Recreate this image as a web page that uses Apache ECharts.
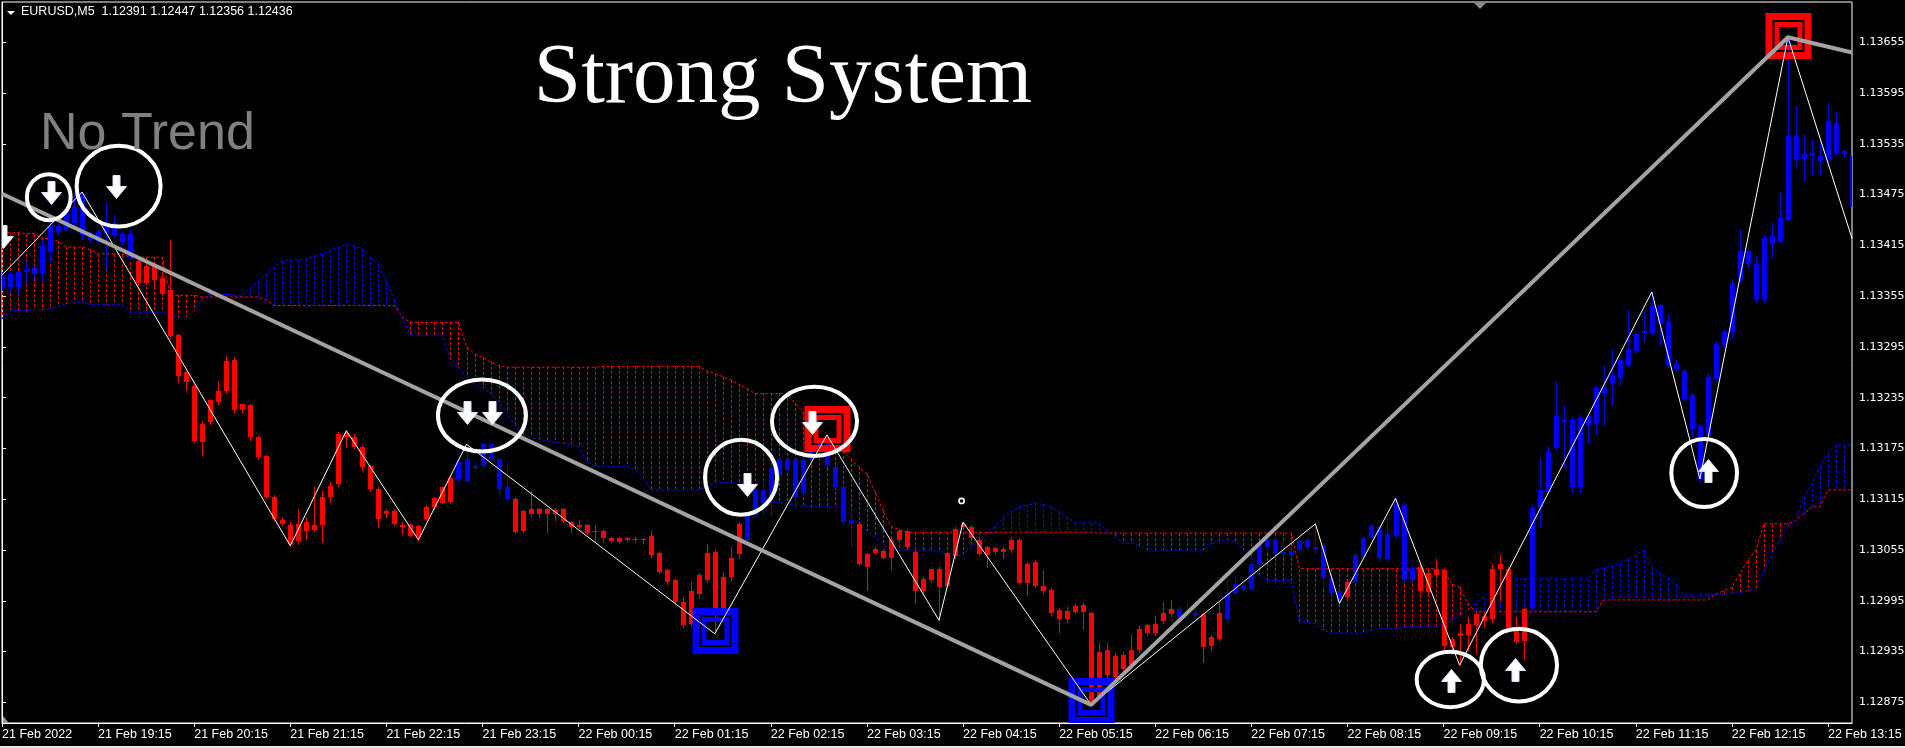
<!DOCTYPE html>
<html><head><meta charset="utf-8">
<script src="https://cdn.jsdelivr.net/npm/echarts@6/dist/echarts.min.js"></script>
<style>html,body{margin:0;padding:0;background:#000;overflow:hidden}#c{width:1905px;height:748px}</style>
</head><body><div id="c"></div>
<script>
// ---------- DATA ----------
const xTickLabels = ['21 Feb 2022','21 Feb 19:15','21 Feb 20:15','21 Feb 21:15','21 Feb 22:15','21 Feb 23:15',
  '22 Feb 00:15','22 Feb 01:15','22 Feb 02:15','22 Feb 03:15','22 Feb 04:15','22 Feb 05:15','22 Feb 06:15',
  '22 Feb 07:15','22 Feb 08:15','22 Feb 09:15','22 Feb 10:15','22 Feb 11:15','22 Feb 12:15','22 Feb 13:15'];
const xTickBars = [0,12,24,36,48,60,72,84,96,108,120,132,144,156,168,180,192,204,216,228];
const yTickValues = [1.12875,1.12935,1.12995,1.13055,1.13115,1.13175,1.13235,1.13295,1.13355,1.13415,1.13475,1.13535,1.13595,1.13655];

const opens = [
1.13366,1.13366,1.13366,1.13383,1.13381,1.13382,1.13407,1.13431,1.13434,1.13442,
1.13427,1.13421,1.13420,1.13429,1.13427,1.13419,1.13401,1.13397,1.13391,1.13392,
1.13377,1.13362,1.13309,1.13265,1.13249,1.13204,1.13232,1.13243,1.13278,1.13280,
1.13227,1.13226,1.13188,1.13166,1.13118,1.13091,1.13085,1.13086,1.13088,1.13084,
1.13118,1.13131,1.13192,1.13193,1.13189,1.13177,1.13154,1.13127,1.13101,1.13101,
1.13084,1.13084,1.13083,1.13106,1.13116,1.13130,1.13140,1.13139,1.13137,1.13152,
1.13154,1.13162,1.13127,1.13115,1.13115,1.13101,1.13104,1.13104,1.13104,1.13102,
1.13104,1.13088,1.13085,1.13085,1.13078,1.13078,1.13069,1.13069,1.13069,1.13068,
1.13068,1.13071,1.13052,1.13031,1.13020,1.12994,1.13006,1.13026,1.13051,1.13053,
1.13023,1.13045,1.13086,1.13067,1.13096,1.13111,1.13118,1.13143,1.13149,1.13118,
1.13122,1.13161,1.13173,1.13155,1.13130,1.13088,1.13086,1.13086,1.13050,1.13056,
1.13054,1.13067,1.13078,1.13078,1.13053,1.13021,1.13032,1.13032,1.13051,1.13080,
1.13086,1.13082,1.13067,1.13058,1.13057,1.13056,1.13067,1.13067,1.13039,1.13041,
1.13013,1.13008,1.12984,1.12983,1.12989,1.12990,1.12980,1.12935,1.12937,1.12930,
1.12931,1.12937,1.12962,1.12966,1.12967,1.12980,1.12985,1.12975,1.12979,1.12977,
1.12979,1.12952,1.12980,1.12973,1.13004,1.13009,1.13009,1.13037,1.13058,1.13051,
1.13050,1.13049,1.13055,1.13058,1.13056,1.13022,1.13004,1.12994,1.13017,1.13017,
1.13048,1.13070,1.13045,1.13044,1.13071,1.13021,1.13021,1.13035,1.13028,1.13032,
1.13031,1.12950,1.12957,1.12967,1.12979,1.12977,1.13033,1.13039,1.13033,1.12960,
1.12985,1.12987,1.13106,1.13123,1.13175,1.13206,1.13130,1.13129,1.13202,1.13204,
1.13240,1.13251,1.13258,1.13274,1.13290,1.13312,1.13311,1.13323,1.13273,1.13269,
1.13234,1.13198,1.13139,1.13190,1.13257,1.13297,1.13313,1.13374,1.13393,1.13350,
1.13350,1.13417,1.13420,1.13445,1.13516,1.13517,1.13521,1.13515,1.13517,1.13524,
1.13523,1.13460];
const closes = [
1.13379,1.13381,1.13383,1.13386,1.13388,1.13414,1.13438,1.13438,1.13456,1.13460,
1.13476,1.13429,1.13431,1.13442,1.13442,1.13429,1.13429,1.13370,1.13371,1.13374,
1.13358,1.13308,1.13261,1.13253,1.13184,1.13183,1.13206,1.13230,1.13243,1.13220,
1.13221,1.13188,1.13165,1.13118,1.13092,1.13086,1.13062,1.13066,1.13078,1.13079,
1.13084,1.13118,1.13133,1.13189,1.13177,1.13153,1.13127,1.13092,1.13097,1.13086,
1.13082,1.13072,1.13070,1.13092,1.13106,1.13110,1.13112,1.13159,1.13162,1.13154,
1.13180,1.13180,1.13162,1.13129,1.13076,1.13077,1.13097,1.13098,1.13098,1.13097,
1.13089,1.13082,1.13082,1.13075,1.13076,1.13069,1.13066,1.13064,1.13067,1.13067,
1.13067,1.13049,1.13029,1.13017,1.12994,1.12966,1.12968,1.13003,1.13019,1.12984,
1.12984,1.13023,1.13050,1.13097,1.13126,1.13126,1.13152,1.13161,1.13161,1.13161,
1.13161,1.13173,1.13185,1.13185,1.13153,1.13130,1.13090,1.13039,1.13035,1.13052,
1.13046,1.13045,1.13067,1.13059,1.13006,1.13006,1.13019,1.13011,1.13012,1.13048,
1.13082,1.13069,1.13050,1.13049,1.13053,1.13053,1.13055,1.13016,1.13016,1.13013,
1.13006,1.12980,1.12974,1.12974,1.12982,1.12982,1.12874,1.12882,1.12907,1.12905,
1.12915,1.12919,1.12937,1.12957,1.12957,1.12971,1.12979,1.12985,1.12983,1.12981,
1.12940,1.12941,1.12950,1.13004,1.13015,1.13014,1.13039,1.13060,1.13067,1.13067,
1.13053,1.13054,1.13066,1.13067,1.13058,1.13061,1.13022,1.13006,1.12999,1.13049,
1.13069,1.13083,1.13082,1.13074,1.13110,1.13108,1.13034,1.13007,1.13005,1.13025,
1.12942,1.12940,1.12953,1.12954,1.12966,1.12971,1.12973,1.13032,1.12962,1.12946,
1.12948,1.13105,1.13126,1.13171,1.13213,1.13209,1.13209,1.13211,1.13213,1.13246,
1.13247,1.13261,1.13279,1.13292,1.13310,1.13314,1.13344,1.13344,1.13324,1.13275,
1.13267,1.13238,1.13201,1.13260,1.13298,1.13313,1.13371,1.13408,1.13408,1.13393,
1.13424,1.13426,1.13447,1.13544,1.13544,1.13523,1.13524,1.13521,1.13562,1.13560,
1.13526,1.13521];
const lows = [
1.13362,1.13360,1.13358,1.13371,1.13377,1.13373,1.13395,1.13429,1.13433,1.13438,
1.13423,1.13419,1.13419,1.13387,1.13425,1.13417,1.13399,1.13368,1.13370,1.13366,
1.13356,1.13305,1.13253,1.13244,1.13183,1.13167,1.13204,1.13228,1.13240,1.13218,
1.13218,1.13185,1.13163,1.13118,1.13091,1.13084,1.13060,1.13062,1.13068,1.13078,
1.13064,1.13112,1.13131,1.13177,1.13175,1.13149,1.13125,1.13082,1.13094,1.13084,
1.13074,1.13071,1.13067,1.13090,1.13104,1.13110,1.13110,1.13137,1.13136,1.13151,
1.13153,1.13161,1.13122,1.13114,1.13075,1.13076,1.13095,1.13094,1.13076,1.13090,
1.13088,1.13076,1.13081,1.13074,1.13064,1.13064,1.13065,1.13063,1.13066,1.13064,
1.13063,1.13047,1.13028,1.13015,1.12992,1.12964,1.12966,1.12998,1.13017,1.12956,
1.12980,1.13019,1.13045,1.13065,1.13094,1.13098,1.13096,1.13141,1.13147,1.13106,
1.13120,1.13159,1.13171,1.13153,1.13128,1.13086,1.13061,1.13037,1.13008,1.13050,
1.13045,1.13033,1.13066,1.13057,1.12992,1.13002,1.13017,1.12972,1.13011,1.13046,
1.13080,1.13067,1.13049,1.13035,1.13051,1.13045,1.13053,1.13015,1.13002,1.13011,
1.13004,1.12978,1.12958,1.12970,1.12980,1.12962,1.12872,1.12880,1.12905,1.12903,
1.12912,1.12916,1.12935,1.12955,1.12955,1.12969,1.12977,1.12973,1.12976,1.12974,
1.12923,1.12937,1.12949,1.12970,1.13002,1.13006,1.13008,1.13035,1.13055,1.13049,
1.13047,1.13047,1.13053,1.13056,1.13053,1.13010,1.13003,1.12992,1.12997,1.13016,
1.13046,1.13069,1.13043,1.13043,1.13070,1.13019,1.13019,1.13005,1.13003,1.13023,
1.12937,1.12937,1.12919,1.12937,1.12933,1.12964,1.12970,1.12996,1.12960,1.12945,
1.12926,1.12984,1.13082,1.13122,1.13173,1.13153,1.13125,1.13122,1.13181,1.13192,
1.13204,1.13226,1.13251,1.13273,1.13289,1.13303,1.13310,1.13299,1.13271,1.13267,
1.13232,1.13189,1.13137,1.13189,1.13255,1.13295,1.13305,1.13372,1.13390,1.13348,
1.13348,1.13401,1.13419,1.13445,1.13508,1.13491,1.13498,1.13498,1.13515,1.13523,
1.13519,1.13449];
const highs = [
1.13383,1.13383,1.13385,1.13397,1.13391,1.13421,1.13448,1.13442,1.13460,1.13476,
1.13478,1.13431,1.13433,1.13466,1.13450,1.13431,1.13433,1.13399,1.13393,1.13394,
1.13379,1.13421,1.13310,1.13267,1.13251,1.13208,1.13234,1.13255,1.13284,1.13283,
1.13228,1.13228,1.13190,1.13167,1.13120,1.13094,1.13088,1.13104,1.13094,1.13129,
1.13125,1.13135,1.13194,1.13196,1.13192,1.13179,1.13155,1.13129,1.13104,1.13103,
1.13088,1.13086,1.13084,1.13108,1.13118,1.13131,1.13142,1.13163,1.13180,1.13155,
1.13181,1.13181,1.13163,1.13157,1.13116,1.13102,1.13125,1.13105,1.13105,1.13105,
1.13105,1.13089,1.13091,1.13086,1.13084,1.13079,1.13070,1.13070,1.13070,1.13070,
1.13069,1.13078,1.13053,1.13033,1.13021,1.13000,1.13017,1.13028,1.13062,1.13055,
1.13029,1.13059,1.13088,1.13100,1.13130,1.13134,1.13155,1.13165,1.13163,1.13163,
1.13181,1.13177,1.13187,1.13191,1.13155,1.13132,1.13102,1.13088,1.13052,1.13058,
1.13056,1.13069,1.13080,1.13080,1.13055,1.13023,1.13033,1.13035,1.13053,1.13082,
1.13088,1.13084,1.13069,1.13060,1.13059,1.13058,1.13070,1.13069,1.13041,1.13043,
1.13031,1.13010,1.12986,1.12988,1.12991,1.12992,1.12982,1.12945,1.12945,1.12933,
1.12935,1.12954,1.12965,1.12968,1.12977,1.12993,1.12996,1.12988,1.12992,1.12992,
1.12981,1.12954,1.12994,1.13019,1.13024,1.13016,1.13041,1.13063,1.13070,1.13070,
1.13065,1.13056,1.13067,1.13069,1.13086,1.13063,1.13023,1.13008,1.13019,1.13051,
1.13071,1.13086,1.13083,1.13094,1.13116,1.13110,1.13037,1.13039,1.13031,1.13044,
1.13033,1.12952,1.12968,1.12976,1.12982,1.12980,1.13039,1.13049,1.13035,1.12976,
1.12986,1.13108,1.13162,1.13177,1.13254,1.13226,1.13212,1.13214,1.13216,1.13249,
1.13272,1.13292,1.13281,1.13337,1.13312,1.13337,1.13360,1.13346,1.13334,1.13280,
1.13269,1.13240,1.13204,1.13263,1.13301,1.13315,1.13374,1.13433,1.13411,1.13402,
1.13427,1.13441,1.13477,1.13661,1.13580,1.13545,1.13540,1.13540,1.13582,1.13573,
1.13528,1.13535];

// Ichimoku cloud spans (red = upper-left span, blue = other span)
const spanRed = [
1.13431,1.13430,1.13430,1.13429,1.13429,1.13423,1.13423,1.13420,1.13413,1.13413,
1.13413,1.13410,1.13405,1.13405,1.13405,1.13405,1.13401,1.13401,1.13401,1.13401,
1.13401,1.13356,1.13356,1.13356,1.13356,1.13354,1.13354,1.13354,1.13354,1.13354,
1.13354,1.13354,1.13354,1.13350,1.13344,1.13344,1.13344,1.13344,1.13344,1.13344,
1.13344,1.13344,1.13344,1.13344,1.13344,1.13344,1.13344,1.13344,1.13344,1.13344,
1.13330,1.13324,1.13324,1.13324,1.13324,1.13324,1.13324,1.13324,1.13295,1.13287,
1.13283,1.13277,1.13273,1.13271,1.13271,1.13271,1.13271,1.13271,1.13271,1.13271,
1.13271,1.13271,1.13271,1.13271,1.13271,1.13272,1.13272,1.13272,1.13272,1.13272,
1.13272,1.13272,1.13272,1.13272,1.13272,1.13272,1.13272,1.13272,1.13267,1.13263,
1.13260,1.13256,1.13251,1.13246,1.13240,1.13240,1.13240,1.13240,1.13240,1.13229,
1.13218,1.13197,1.13187,1.13182,1.13177,1.13172,1.13162,1.13153,1.13145,1.13124,
1.13102,1.13083,1.13079,1.13076,1.13076,1.13076,1.13076,1.13076,1.13076,1.13076,
1.13076,1.13076,1.13076,1.13076,1.13076,1.13076,1.13076,1.13076,1.13076,1.13076,
1.13076,1.13076,1.13076,1.13076,1.13076,1.13076,1.13076,1.13075,1.13075,1.13075,
1.13075,1.13075,1.13075,1.13075,1.13075,1.13075,1.13075,1.13075,1.13075,1.13075,
1.13075,1.13075,1.13075,1.13075,1.13075,1.13075,1.13075,1.13075,1.13075,1.13075,
1.13075,1.13075,1.13033,1.13033,1.13033,1.13033,1.13033,1.13033,1.13033,1.13033,
1.13033,1.13033,1.13033,1.13033,1.13033,1.13033,1.13033,1.13033,1.13033,1.13033,
1.13031,1.13015,1.13011,1.12992,1.12982,1.12982,1.12982,1.12982,1.12982,1.12982,
1.12982,1.12982,1.12982,1.12982,1.12982,1.12982,1.12982,1.12982,1.12982,1.12982,
1.12996,1.12996,1.12996,1.12996,1.12996,1.12996,1.12996,1.12996,1.12996,1.12996,
1.12996,1.12996,1.12996,1.12996,1.13003,1.13007,1.13011,1.13027,1.13043,1.13055,
1.13086,1.13086,1.13086,1.13086,1.13090,1.13098,1.13106,1.13106,1.13126,1.13126,
1.13126,1.13126];
const spanBlue = [
1.13328,1.13338,1.13338,1.13338,1.13339,1.13339,1.13340,1.13343,1.13346,1.13347,
1.13348,1.13345,1.13345,1.13345,1.13345,1.13345,1.13336,1.13336,1.13336,1.13336,
1.13336,1.13333,1.13330,1.13330,1.13338,1.13352,1.13358,1.13357,1.13357,1.13356,
1.13356,1.13364,1.13373,1.13381,1.13389,1.13397,1.13398,1.13398,1.13399,1.13402,
1.13405,1.13409,1.13413,1.13416,1.13414,1.13411,1.13401,1.13393,1.13372,1.13350,
1.13328,1.13310,1.13309,1.13309,1.13309,1.13309,1.13279,1.13270,1.13260,1.13251,
1.13246,1.13240,1.13230,1.13218,1.13201,1.13190,1.13188,1.13186,1.13184,1.13182,
1.13181,1.13180,1.13177,1.13160,1.13154,1.13154,1.13154,1.13154,1.13154,1.13150,
1.13141,1.13126,1.13126,1.13126,1.13126,1.13126,1.13126,1.13126,1.13130,1.13134,
1.13135,1.13135,1.13132,1.13128,1.13120,1.13114,1.13112,1.13111,1.13110,1.13108,
1.13107,1.13106,1.13106,1.13106,1.13106,1.13106,1.13095,1.13085,1.13078,1.13070,
1.13063,1.13057,1.13055,1.13055,1.13055,1.13055,1.13055,1.13053,1.13050,1.13047,
1.13050,1.13058,1.13066,1.13075,1.13083,1.13093,1.13101,1.13106,1.13108,1.13110,
1.13109,1.13106,1.13100,1.13094,1.13087,1.13087,1.13087,1.13087,1.13078,1.13070,
1.13063,1.13063,1.13060,1.13055,1.13055,1.13055,1.13055,1.13055,1.13055,1.13055,
1.13055,1.13062,1.13066,1.13067,1.13065,1.13055,1.13047,1.13025,1.13019,1.13019,
1.13019,1.13019,1.12970,1.12969,1.12968,1.12960,1.12957,1.12957,1.12957,1.12957,
1.12957,1.12960,1.12962,1.12962,1.12962,1.12965,1.12965,1.12965,1.12965,1.12965,
1.12968,1.12972,1.12978,1.12984,1.12992,1.13000,1.13008,1.13015,1.13018,1.13021,
1.13021,1.13021,1.13021,1.13021,1.13021,1.13021,1.13021,1.13021,1.13021,1.13031,
1.13034,1.13036,1.13039,1.13044,1.13049,1.13055,1.13035,1.13028,1.13022,1.13015,
1.13002,1.13002,1.13002,1.13002,1.13002,1.13003,1.13004,1.13005,1.13006,1.13010,
1.13030,1.13050,1.13068,1.13083,1.13090,1.13118,1.13133,1.13154,1.13168,1.13179,
1.13179,1.13179];

// ZigZag (thin white) and higher-degree swing line (thick grey)
const zigzagBars   = [0, 10, 36, 43, 52, 58, 89, 103, 117, 120, 136, 164, 167, 174, 182, 206, 212, 223, 231];
const zigzagPrices = [1.13380,1.13478,1.13060,1.13196,1.13067,1.13180,1.12956,1.13191,1.12972,1.13088,1.12872,1.13086,1.12992,1.13116,1.12919,1.13360,1.13139,1.13661,1.13423];
const swingBars   = [0, 136, 223, 231];
const swingPrices = [1.13476, 1.12872, 1.13661, 1.13643];

// Swing boxes
const lowBoxBars = [89, 136];   const lowBoxPrices = [1.12959, 1.12877];
const highBoxBars = [103, 223]; const highBoxPrices = [1.13198, 1.13662];

// Signal arrows
const downArrowBars   = [0.12, 6.12, 14.23, 58.06, 61.18, 93.02, 101.14];
const downArrowPrices = [1.13425, 1.13477, 1.13484, 1.13217, 1.13217, 1.13132, 1.13205];
const upArrowBars   = [180.93, 188.92, 213.02];
const upArrowPrices = [1.12900, 1.12913, 1.13148];

// Highlight ellipses: centre (bar, price) and half extents (bars, price)
const circleBars      = [5.84, 14.56, 59.93, 92.28, 101.45, 180.84, 189.41, 212.54];
const circlePrices    = [1.13472, 1.13485, 1.13214, 1.13141, 1.13207, 1.12902, 1.12919, 1.13146];
const circleHalfBars  = [2.73, 5.24, 5.49, 4.50, 5.31, 4.20, 4.76, 4.10];
const circleHalfPrice = [0.000272, 0.000476, 0.000425, 0.000443, 0.000408, 0.000327, 0.000429, 0.000402];

const markerBars = [119.82]; const markerPrices = [1.13113];

// ---------- CHART ----------
const Y_MIN = 1.128506, Y_MAX = 1.137026;
const candleData = opens.map((o, i) => [i, o, closes[i], lows[i], highs[i]]);
const cloudData = spanRed.map((r, i) => [i, r, spanBlue[i]]);

function renderCandle(params, api) {
  const i = api.value(0), o = api.value(1), c = api.value(2), l = api.value(3), h = api.value(4);
  const x = Math.round(api.coord([i, o])[0]);
  const yo = api.coord([i, o])[1], yc = api.coord([i, c])[1];
  const yl = Math.round(api.coord([i, l])[1]), yh = Math.round(api.coord([i, h])[1]);
  const col = c >= o ? '#0000ff' : '#ff0000';
  const top = Math.round(Math.min(yo, yc)), bot = Math.round(Math.max(yo, yc));
  return {type: 'group', children: [
    {type: 'rect', shape: {x: x, y: yh, width: 1, height: Math.max(1, yl - yh + 1)}, style: {fill: col}},
    {type: 'rect', shape: {x: x - 2, y: top, width: 5, height: Math.max(1, bot - top)}, style: {fill: col}}
  ]};
}
function renderHatch(params, api) {
  const i = api.value(0), r = api.value(1), b = api.value(2);
  const pr = api.coord([i, r]), pb = api.coord([i, b]);
  const x = Math.round(pr[0]) + 0.5;
  const col = r >= b ? '#ff0000' : '#0000ff';
  return {type: 'line', shape: {x1: x, y1: Math.round(Math.min(pr[1], pb[1])), x2: x, y2: Math.round(Math.max(pr[1], pb[1]))},
          style: {stroke: col, lineWidth: 1, lineDash: [3, 2]}};
}
function boxRenderer(color) {
  return function (params, api) {
    const p = api.coord([api.value(0), api.value(1)]);
    const cx = Math.round(p[0]) + 0.5, cy = Math.round(p[1]);
    return {type: 'group', children: [
      {type: 'rect', shape: {x: cx - 19.5, y: cy - 19.5, width: 39, height: 39}, style: {fill: null, stroke: color, lineWidth: 7}},
      {type: 'rect', shape: {x: cx - 11.5, y: cy - 11.5, width: 23, height: 23}, style: {fill: null, stroke: color, lineWidth: 5}}
    ]};
  };
}
function renderCircle(params, api) {
  const b = api.value(0), p = api.value(1), hb = api.value(2), hp = api.value(3);
  const c = api.coord([b, p]);
  const rx = Math.abs(api.coord([b + hb, p])[0] - c[0]);
  const ry = Math.abs(api.coord([b, p + hp])[1] - c[1]);
  return {type: 'ellipse', shape: {cx: c[0], cy: c[1], rx: rx, ry: ry}, style: {fill: null, stroke: '#ffffff', lineWidth: 4}};
}
function arrowRenderer(dir) {
  return function (params, api) {
    const c = api.coord([api.value(0), api.value(1)]);
    const cx = Math.round(c[0]) + 0.5, cy = Math.round(c[1]);
    const s = dir; // 1 = down, -1 = up
    const pts = [[cx - 3.5, cy - 11.5 * s], [cx + 3.5, cy - 11.5 * s], [cx + 3.5, cy - 0.5 * s], [cx + 10, cy - 0.5 * s],
                 [cx, cy + 11.5 * s], [cx - 10, cy - 0.5 * s], [cx - 3.5, cy - 0.5 * s]];
    return {type: 'polygon', shape: {points: pts}, style: {fill: '#ffffff', stroke: '#d8e4ff', lineWidth: 1}};
  };
}
function renderMarker(params, api) {
  const c = api.coord([api.value(0), api.value(1)]);
  return {type: 'circle', shape: {cx: c[0], cy: c[1], r: 2.6}, style: {fill: '#000', stroke: '#fff', lineWidth: 1.6}};
}

const chart = echarts.init(document.getElementById('c'), null, {renderer: 'canvas', width: 1905, height: 748});
chart.setOption({
  backgroundColor: '#000000',
  animation: false,
  grid: {left: 2, right: 53, top: 2, bottom: 25, show: true, borderColor: '#ffffff', borderWidth: 1,
         backgroundColor: '#000000', containLabel: false, outerBoundsMode: 'none'},
  xAxis: {
    type: 'value', min: 0, max: opens.length - 1,
    axisLine: {show: true, lineStyle: {color: '#ffffff', width: 1}},
    axisTick: {show: true, length: 4, inside: false, customValues: xTickBars, lineStyle: {color: '#ffffff'}},
    axisLabel: {show: true, customValues: xTickBars, color: '#ffffff', fontFamily: '"Liberation Sans"', fontSize: 12.5,
                margin: 5, align: 'left', formatter: v => xTickLabels[Math.round(v / 12)] || ''},
    splitLine: {show: false}
  },
  yAxis: {
    type: 'value', position: 'right', min: Y_MIN, max: Y_MAX,
    axisLine: {show: true, lineStyle: {color: '#ffffff', width: 1}},
    axisTick: {show: true, length: 4, customValues: yTickValues, lineStyle: {color: '#ffffff'}},
    axisLabel: {show: true, customValues: yTickValues, color: '#ffffff', fontFamily: '"DejaVu Sans"', fontSize: 11,
                margin: 7, formatter: v => v.toFixed(5)},
    splitLine: {show: false}
  },
  series: [
    {type: 'custom', name: 'cloud', data: cloudData, renderItem: renderHatch, clip: true, z: 1, silent: true,
     encode: {x: 0, y: [1, 2]}},
    {type: 'line', name: 'spanRed', data: spanRed.map((v, i) => [i, v]), symbol: 'none', z: 2, silent: true,
     lineStyle: {color: '#ff0000', width: 1, type: [3, 2]}},
    {type: 'line', name: 'spanBlue', data: spanBlue.map((v, i) => [i, v]), symbol: 'none', z: 2, silent: true,
     lineStyle: {color: '#0000ff', width: 1, type: [3, 2]}},
    {type: 'custom', name: 'candles', data: candleData, renderItem: renderCandle, clip: true, z: 3,
     encode: {x: 0, y: [1, 2, 3, 4]}},
    {type: 'custom', name: 'lowBoxes', data: lowBoxBars.map((b, i) => [b, lowBoxPrices[i]]), renderItem: boxRenderer('#0000ff'),
     clip: true, z: 4, encode: {x: 0, y: 1}},
    {type: 'custom', name: 'highBoxes', data: highBoxBars.map((b, i) => [b, highBoxPrices[i]]), renderItem: boxRenderer('#ff0000'),
     clip: true, z: 4, encode: {x: 0, y: 1}},
    {type: 'line', name: 'zigzag', data: zigzagBars.map((b, i) => [b, zigzagPrices[i]]), symbol: 'none', z: 5,
     lineStyle: {color: '#ffffff', width: 1}},
    {type: 'line', name: 'swing', data: swingBars.map((b, i) => [b, swingPrices[i]]), symbol: 'none', z: 6,
     lineStyle: {color: '#a3a3a3', width: 4}},
    {type: 'custom', name: 'circles', data: circleBars.map((b, i) => [b, circlePrices[i], circleHalfBars[i], circleHalfPrice[i]]),
     renderItem: renderCircle, clip: true, z: 7, encode: {x: 0, y: 1}},
    {type: 'custom', name: 'down', data: downArrowBars.map((b, i) => [b, downArrowPrices[i]]), renderItem: arrowRenderer(1),
     clip: true, z: 8, encode: {x: 0, y: 1}},
    {type: 'custom', name: 'up', data: upArrowBars.map((b, i) => [b, upArrowPrices[i]]), renderItem: arrowRenderer(-1),
     clip: true, z: 8, encode: {x: 0, y: 1}},
    {type: 'custom', name: 'marker', data: markerBars.map((b, i) => [b, markerPrices[i]]), renderItem: renderMarker,
     clip: true, z: 8, encode: {x: 0, y: 1}}
  ],
  graphic: [
    {type: 'polygon', shape: {points: [[7, 11], [15, 11], [11, 15]]}, style: {fill: '#ffffff'}, z: 100},
    {type: 'text', left: 21, top: 5, style: {text: 'EURUSD,M5  1.12391 1.12447 1.12356 1.12436', fill: '#ffffff',
      font: '12.5px "Liberation Sans"'}, z: 100},
    {type: 'text', x: 783, y: 80, style: {text: 'Strong System', fill: '#ffffff', font: '85px "Liberation Serif"',
      textAlign: 'center', textVerticalAlign: 'middle'}, z: 100},
    {type: 'text', x: 40, y: 135, style: {text: 'No Trend', fill: '#808080', font: '52px "Liberation Sans"',
      textAlign: 'left', textVerticalAlign: 'middle'}, z: 100},
    {type: 'polygon', shape: {points: [[1474, 3], [1486, 3], [1480, 9]]}, style: {fill: '#8a8a8a'}, z: 100},
    {type: 'polygon', shape: {points: [[3, 716], [3, 723], [9, 723]]}, style: {fill: '#8a9aaa'}, z: 100},
    {type: 'rect', shape: {x: 0, y: 746, width: 1905, height: 2}, style: {fill: '#e6e6e6'}, z: 100}
  ]
});
</script>
</body></html>
